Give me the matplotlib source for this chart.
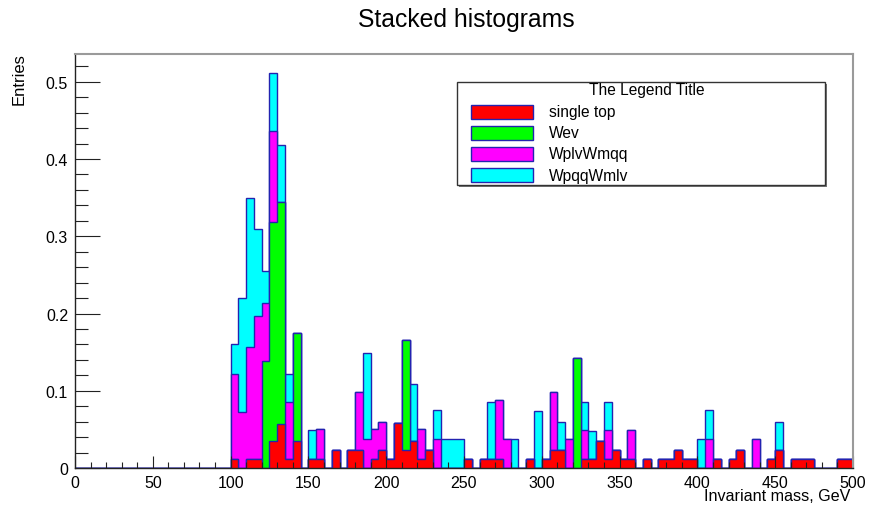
import numpy as np
import matplotlib
matplotlib.use("Agg")
import matplotlib.pyplot as plt
from matplotlib.patches import Rectangle
from matplotlib.ticker import MultipleLocator, FixedLocator

plt.rcParams['font.family'] = ['Liberation Sans', 'DejaVu Sans']

# histogram binning: 5 GeV bins from 0 to 500, all filled bins start at 100
bin_width = 5
first_bin = 100

# bin contents from 100 GeV upwards, 10 bins per row
single_top = [
    0.012, 0, 0.012, 0.012, 0, 0.035, 0.057, 0.012, 0.035, 0,
    0.012, 0.012, 0, 0.023, 0, 0.023, 0.023, 0, 0.012, 0.023,
    0.012, 0.058, 0.023, 0.035, 0.012, 0.023, 0, 0, 0, 0,
    0.012, 0, 0.012, 0.012, 0.012, 0, 0, 0, 0.012, 0,
    0.012, 0.023, 0.023, 0, 0, 0.012, 0.012, 0.035, 0.012, 0.023,
    0.012, 0.012, 0, 0.012, 0, 0.012, 0.012, 0.023, 0.012, 0.012,
    0, 0, 0.012, 0, 0.012, 0.023, 0, 0, 0, 0.012,
    0.023, 0, 0.012, 0.012, 0.012, 0, 0, 0, 0.012, 0.012,
]
wev = [
    0, 0, 0, 0, 0.138, 0.284, 0.288, 0, 0.14, 0,
    0, 0, 0, 0, 0, 0, 0, 0, 0, 0,
    0, 0, 0.143, 0, 0, 0, 0, 0, 0, 0,
    0, 0, 0, 0, 0, 0, 0, 0, 0, 0,
    0, 0, 0, 0, 0.143, 0, 0, 0, 0, 0,
    0, 0, 0, 0, 0, 0, 0, 0, 0, 0,
    0, 0, 0, 0, 0, 0, 0, 0, 0, 0,
    0, 0, 0, 0, 0, 0, 0, 0, 0, 0,
]
wplv_wmqq = [
    0.11, 0.072, 0.145, 0.185, 0.075, 0.117, 0, 0.074, 0, 0,
    0, 0.038, 0, 0, 0, 0, 0.076, 0.038, 0.038, 0.037,
    0, 0, 0, 0, 0.038, 0, 0.038, 0, 0, 0,
    0, 0, 0, 0, 0.076, 0.038, 0, 0, 0, 0,
    0, 0.076, 0, 0.038, 0, 0.037, 0, 0, 0.037, 0,
    0, 0.037, 0, 0, 0, 0, 0, 0, 0, 0,
    0, 0.038, 0, 0, 0, 0, 0, 0.038, 0, 0,
    0, 0, 0, 0, 0, 0, 0, 0, 0, 0,
]
wpqq_wmlv = [
    0.038, 0.148, 0.193, 0.113, 0.042, 0.075, 0.073, 0.036, 0, 0,
    0.037, 0, 0, 0, 0, 0, 0, 0.111, 0, 0,
    0, 0, 0, 0.074, 0, 0, 0.037, 0.037, 0.037, 0.037,
    0, 0, 0, 0.074, 0, 0, 0.037, 0, 0, 0.074,
    0, 0, 0.037, 0, 0, 0.037, 0.036, 0, 0.037, 0,
    0, 0, 0, 0, 0, 0, 0, 0, 0, 0,
    0.037, 0.037, 0, 0, 0, 0, 0, 0, 0, 0,
    0.037, 0, 0, 0, 0, 0, 0, 0, 0, 0,
]

labels = ['single top', 'Wev', 'WplvWmqq', 'WpqqWmlv']
colors = ['#ff0000', '#00ff00', '#ff00ff', '#00ffff']
line_color = '#2323b0'

x_ticks = [0, 50, 100, 150, 200, 250, 300, 350, 400, 450, 500]
y_ticks = [0, 0.1, 0.2, 0.3, 0.4, 0.5]
y_tick_labels = ['0', '0.1', '0.2', '0.3', '0.4', '0.5']

edges = np.arange(0, 500 + bin_width, bin_width)
n_empty = first_bin // bin_width
components = [np.concatenate([np.zeros(n_empty), np.array(h, dtype=float)])
              for h in (single_top, wev, wplv_wmqq, wpqq_wmlv)]
stacked = np.cumsum(components, axis=0)

W, H = 870, 510
fig = plt.figure(figsize=(W / 100, H / 100), dpi=100)
ax = fig.add_axes([75 / W, 1 - 469 / H, (853 - 75) / W, (469 - 55) / H])

# like THStack: draw the running sums from the top layer down
for level in range(len(components) - 1, -1, -1):
    ax.stairs(stacked[level], edges, fill=True, baseline=0,
              facecolor=colors[level], edgecolor=line_color, linewidth=1.0)

ax.set_xlim(0, 500)
ax.set_ylim(0, 0.536)

ax.xaxis.set_major_locator(FixedLocator(x_ticks))
ax.xaxis.set_minor_locator(MultipleLocator(10))
ax.yaxis.set_major_locator(FixedLocator(y_ticks))
ax.set_yticklabels(y_tick_labels)
ax.yaxis.set_minor_locator(MultipleLocator(0.02))

ax.tick_params(axis='both', which='both', direction='in', top=False, right=False,
               color='#222222', width=0.8, labelsize=11.5)
ax.tick_params(axis='y', which='major', length=18, pad=5)
ax.tick_params(axis='y', which='minor', length=9.4)
ax.tick_params(axis='x', which='major', length=8.6, pad=4.7)
ax.tick_params(axis='x', which='minor', length=4.3)

for side in ('left', 'bottom'):
    ax.spines[side].set_color('#222222')
    ax.spines[side].set_linewidth(1.0)
for side in ('top', 'right'):
    ax.spines[side].set_color('#9a9a9a')
    ax.spines[side].set_linewidth(1.5)

fig.text(466 / W, 1 - 20 / H, 'Stacked histograms', ha='center', va='center',
         fontsize=17.8)
fig.text(19 / W, 1 - 53 / H, 'Entries', rotation=90, ha='center', va='top',
         fontsize=12)
fig.text(850 / W, 1 - 497 / H, 'Invariant mass, GeV', ha='right', va='center',
         fontsize=11.6)

# legend box drawn by hand in pixel positions of the figure
def fx(x):
    return x / W

def fy(y):
    return 1 - y / H

fig.add_artist(Rectangle((fx(459), fy(188)), fx(827) - fx(459), fy(85) - fy(188),
                         transform=fig.transFigure, facecolor='#777777',
                         edgecolor='none', zorder=5))
fig.add_artist(Rectangle((fx(457), fy(186)), fx(825) - fx(457), fy(83) - fy(186),
                         transform=fig.transFigure, facecolor='white',
                         edgecolor='#333333', linewidth=1.0, zorder=6))
fig.text(fx(647), fy(91), 'The Legend Title', ha='center', va='center',
         fontsize=11.2, zorder=7)
row_y = [113, 134, 155, 176]
for label, color, y in zip(labels, colors, row_y):
    fig.add_artist(Rectangle((fx(471), fy(y + 7)), fx(533) - fx(471), fy(y - 7) - fy(y + 7),
                             transform=fig.transFigure, facecolor=color,
                             edgecolor=line_color, linewidth=1.0, zorder=7))
    fig.text(fx(549), fy(y), label, ha='left', va='center', fontsize=11.2, zorder=7)

fig.savefig('out.png', dpi=100)
